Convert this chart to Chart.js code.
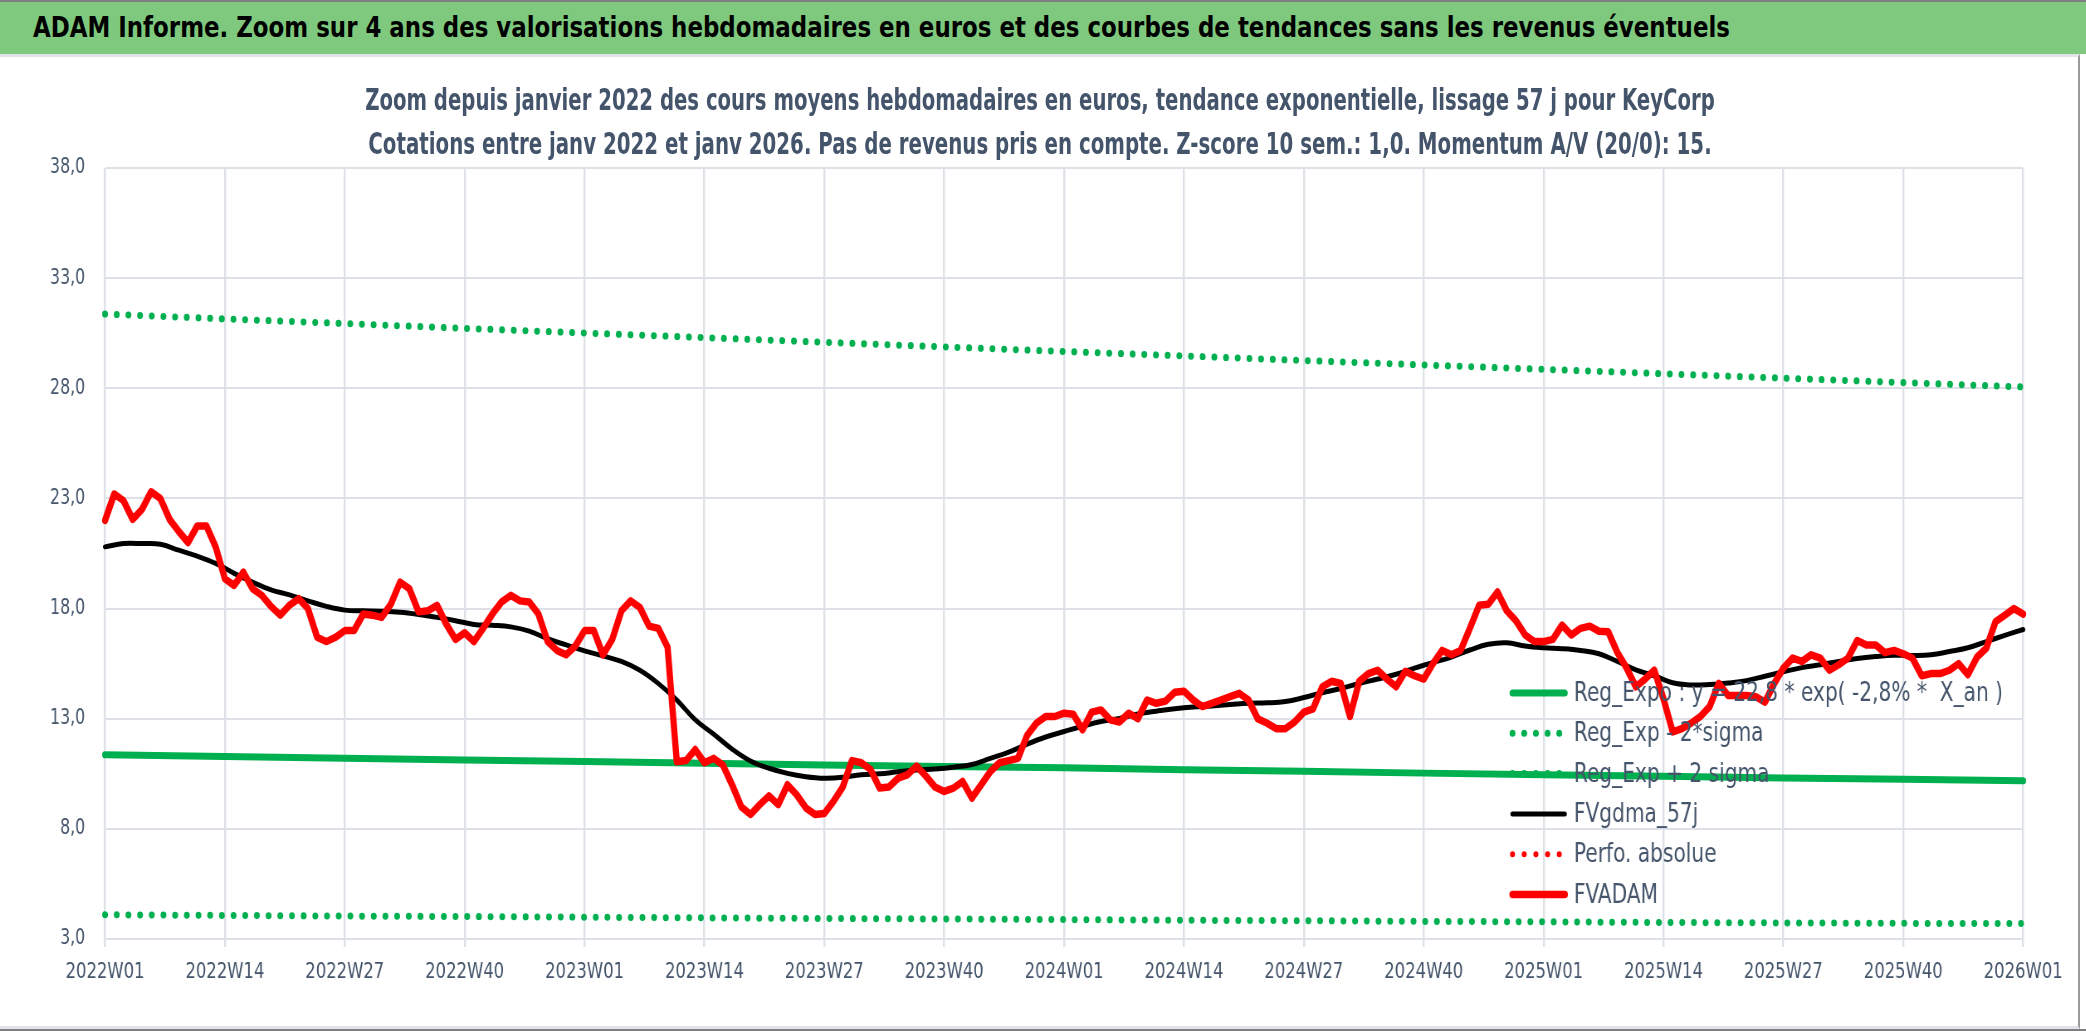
<!DOCTYPE html>
<html>
<head>
<meta charset="utf-8">
<script src="https://cdn.jsdelivr.net/npm/chart.js@4.4.1/dist/chart.umd.min.js"></script>
<style>
  html, body { margin: 0; padding: 0; background: #fff; }
  body { width: 2086px; height: 1031px; position: relative; overflow: hidden; }
  #banner {
    position: absolute; left: 0; top: 0; width: 2086px; height: 54px;
    background: #7ec97e; border-top: 2px solid #7f7f7f; box-sizing: border-box;
  }
  .fit { position: absolute; white-space: nowrap; font-family: "DejaVu Sans Condensed", sans-serif; font-weight: bold; }
  #bannerText { left: 33px; top: 0; line-height: 50px; font-size: 29px; color: #000; transform-origin: 0 50%; }
  .title { left: 1040px; font-size: 30px; line-height: 44px; color: #44546a; }
  #t1 { top: 78px; }
  #t2 { top: 122px; }
  #frame {
    position: absolute; left: 0; top: 54px; width: 2080px; height: 975px;
    box-sizing: border-box; border-top: 3px solid #e0e2e7; border-bottom: 3px solid #e0e2e7;
    border-right: 2px solid #9a9a9a;
  }
  #bottomline { position: absolute; left: 0; top: 1029px; width: 2086px; height: 2px; background: #7f7f7f; }
  #wrap { position: absolute; left: 0; top: 57px; transform-origin: 0 0; }
  #wrap canvas { display: block; }
</style>
</head>
<body>
<div id="banner"><div id="bannerText" class="fit" data-w="1697">ADAM Informe. Zoom sur 4 ans des valorisations hebdomadaires en euros et des courbes de tendances sans les revenus éventuels</div></div>
<div id="frame"></div>
<div id="bottomline"></div>
<div id="wrap"><canvas id="chart"></canvas></div>
<div id="t1" class="fit title" data-w="1350">Zoom depuis janvier 2022 des cours moyens hebdomadaires en euros, tendance exponentielle, lissage 57 j pour KeyCorp</div>
<div id="t2" class="fit title" data-w="1343">Cotations entre janv 2022 et janv 2026. Pas de revenus pris en compte. Z-score 10 sem.: 1,0. Momentum A/V (20/0): 15.</div>
<script>
// semaines ISO affichées sur l'axe
const years = [2022, 2023, 2024, 2025];
const weeksPerYear = 52;
const weeks = [];
years.forEach(y => {
  for (let w = 1; w <= weeksPerYear; w++) weeks.push(y + "W" + String(w).padStart(2, "0"));
});
weeks.push("2026W01");

const xTickLabels = [
  "2022W01", "2022W14", "2022W27", "2022W40",
  "2023W01", "2023W14", "2023W27", "2023W40",
  "2024W01", "2024W14", "2024W27", "2024W40",
  "2025W01", "2025W14", "2025W27", "2025W40",
  "2026W01"
];

// FVADAM : cours moyen hebdomadaire (euros), une valeur par semaine
const fvadam = [
  22.0, 23.2, 22.9, 22.05, 22.5, 23.3, 23.0, 22.05, 21.5, 21.0,
  21.75, 21.75, 20.8, 19.35, 19.05, 19.65, 18.9, 18.6, 18.1, 17.7,
  18.15, 18.45, 18.0, 16.7, 16.5, 16.7, 17.0, 17.0, 17.75, 17.7,
  17.6, 18.2, 19.2, 18.9, 17.85, 17.9, 18.15, 17.3, 16.6, 16.9,
  16.5, 17.1, 17.75, 18.3, 18.6, 18.35, 18.3, 17.75, 16.5, 16.1,
  15.9, 16.3, 17.0, 17.0, 15.9, 16.6, 17.9, 18.35, 18.05, 17.2,
  17.1, 16.25, 11.05, 11.1, 11.6, 11.0, 11.2, 10.9, 10.0, 9.0,
  8.65, 9.1, 9.5, 9.1, 10.0, 9.55, 8.95, 8.65, 8.7, 9.25,
  9.9, 11.1, 11.0, 10.7, 9.85, 9.9, 10.3, 10.45, 10.85, 10.4,
  9.9, 9.7, 9.85, 10.15, 9.4, 10.0, 10.6, 11.0, 11.1, 11.2,
  12.25, 12.8, 13.1, 13.1, 13.25, 13.2, 12.5, 13.3, 13.4, 12.95,
  12.85, 13.25, 13.0, 13.85, 13.7, 13.8, 14.2, 14.25, 13.85, 13.55,
  13.7, 13.85, 14.0, 14.15, 13.85, 13.0, 12.8, 12.55, 12.55, 12.85,
  13.3, 13.45, 14.45, 14.7, 14.6, 13.1, 14.7, 15.05, 15.2, 14.8,
  14.45, 15.15, 14.95, 14.8, 15.5, 16.1, 15.9, 16.1, 17.1, 18.15,
  18.2, 18.75, 17.9, 17.45, 16.8, 16.5, 16.5, 16.6, 17.25, 16.8,
  17.1, 17.2, 16.97, 16.95, 16.0, 15.3, 14.45, 14.8, 15.2, 13.9,
  12.4, 12.55, 12.8, 13.1, 13.55, 14.6, 14.05, 14.05, 14.05, 14.0,
  13.75, 14.6, 15.3, 15.75, 15.6, 15.9, 15.75, 15.2, 15.45, 15.75,
  16.55, 16.35, 16.35, 16.0, 16.1, 15.95, 15.75, 14.95, 15.05, 15.05,
  15.2, 15.5, 15.0, 15.8, 16.2, 17.4, 17.7, 18.0, 17.75
];

// FVgdma_57j : moyenne lissée, lue toutes les 2 semaines
const fvgdmaStep = 2;
const fvgdma = [
  20.8, 20.95, 20.95, 20.92, 20.65, 20.38, 20.05, 19.6, 19.2, 18.85,
  18.62, 18.35, 18.1, 17.93, 17.9, 17.88, 17.83, 17.73, 17.6, 17.45,
  17.28, 17.24, 17.17, 16.98, 16.63, 16.35, 16.08, 15.85, 15.6, 15.2,
  14.6, 13.85, 12.95, 12.3, 11.62, 11.08, 10.75, 10.52, 10.37, 10.3,
  10.34, 10.46, 10.5, 10.59, 10.67, 10.72, 10.8, 10.92, 11.2, 11.48,
  11.85, 12.17, 12.42, 12.66, 12.87, 13.01, 13.22, 13.34, 13.45, 13.53,
  13.58, 13.64, 13.7, 13.72, 13.78, 13.96, 14.18, 14.37, 14.6, 14.8,
  15.02, 15.3, 15.55, 15.8, 16.12, 16.38, 16.45, 16.3, 16.22, 16.18,
  16.1, 15.95, 15.6, 15.22, 14.95, 14.63, 14.53, 14.55, 14.62, 14.73,
  14.93, 15.13, 15.32, 15.45, 15.6, 15.73, 15.82, 15.88, 15.87, 15.9,
  16.05, 16.22, 16.5, 16.78, 17.05
];

// droites de régression, lues à chaque étiquette (13 semaines)
const trendStep = 13;
const regExpo = [11.36, 11.28, 11.21, 11.13, 11.06, 10.98, 10.9, 10.83, 10.77, 10.68, 10.61, 10.53, 10.46, 10.39, 10.31, 10.25, 10.18];
const regMinus2 = [4.1, 4.07, 4.04, 4.02, 3.99, 3.96, 3.93, 3.91, 3.88, 3.85, 3.83, 3.8, 3.78, 3.75, 3.73, 3.71, 3.7];
const regPlus2 = [31.37, 31.15, 30.94, 30.72, 30.51, 30.3, 30.09, 29.88, 29.67, 29.47, 29.26, 29.06, 28.86, 28.66, 28.46, 28.26, 28.06];
const perfoAbsolue = [];

const yMin = 3, yMax = 38, yStep = 5;

// le rendu d'origine a un texte étroit : on compresse le canevas horizontalement
const SX = 0.83;
const W = 2079, H = 967;
const FONT = '"DejaVu Sans Condensed", sans-serif';
const TEXT = "#44546a";
const GRID = "#dde1e7";
const GREEN = "#00b050";

// ajuste la largeur des titres HTML
document.querySelectorAll(".fit").forEach(el => {
  const k = Number(el.dataset.w) / el.offsetWidth;
  el.style.transform = el.classList.contains("title")
    ? "translateX(-50%) scaleX(" + k + ")"
    : "scaleX(" + k + ")";
});

const canvas = document.getElementById("chart");
canvas.width = Math.round(W / SX);
canvas.height = H;
canvas.style.width = canvas.width + "px";
canvas.style.height = H + "px";
document.getElementById("wrap").style.transform = "scaleX(" + SX + ")";

function sparse(values, step) {
  return values.map((v, i) => ({ x: weeks[i * step], y: v }));
}

const dotted = [0.1, 11.6 / SX];

const inlineLegend = {
  id: "inlineLegend",
  afterDatasetsDraw(chart) {
    const { ctx, chartArea } = chart;
    const x0 = chartArea.right - 514 / SX;
    const y0 = chartArea.top + 525;
    const gap = 40.3;
    chart.data.datasets.forEach((ds, i) => {
      const y = y0 + i * gap;
      ctx.save();
      ctx.strokeStyle = ds.borderColor;
      ctx.lineWidth = ds.borderWidth;
      ctx.lineCap = "round";
      ctx.setLineDash(ds.borderDash || []);
      ctx.beginPath();
      ctx.moveTo(x0 + 4, y);
      ctx.lineTo(x0 + 67, y);
      ctx.stroke();
      ctx.setLineDash([]);
      ctx.fillStyle = TEXT;
      ctx.font = "27px " + FONT;
      ctx.textBaseline = "middle";
      ctx.fillText(ds.label, x0 + 78, y + 1);
      ctx.restore();
    });
  }
};

new Chart(canvas, {
  type: "line",
  data: {
    labels: weeks,
    datasets: [
      { label: "Reg_Expo : y = 22,8 * exp( -2,8% *  X_an )", data: sparse(regExpo, trendStep),
        borderColor: GREEN, borderWidth: 7, order: 2 },
      { label: "Reg_Exp - 2*sigma", data: sparse(regMinus2, trendStep),
        borderColor: GREEN, borderWidth: 7, borderDash: dotted, order: 2 },
      { label: "Reg_Exp + 2 sigma", data: sparse(regPlus2, trendStep),
        borderColor: GREEN, borderWidth: 7, borderDash: dotted, order: 2 },
      { label: "FVgdma_57j", data: sparse(fvgdma, fvgdmaStep),
        borderColor: "#000000", borderWidth: 5, tension: 0.4, order: 1 },
      { label: "Perfo. absolue", data: perfoAbsolue,
        borderColor: "#ff0000", borderWidth: 6, borderDash: dotted, order: 1 },
      { label: "FVADAM", data: fvadam,
        borderColor: "#ff0000", borderWidth: 7.5, order: 0 }
    ]
  },
  options: {
    responsive: false,
    animation: false,
    devicePixelRatio: 1,
    elements: {
      point: { radius: 0 },
      line: { borderCapStyle: "round", borderJoinStyle: "round", fill: false }
    },
    layout: { padding: { left: 0, right: 56 / SX, top: 111, bottom: 0 } },
    plugins: {
      legend: { display: false },
      tooltip: { enabled: false },
      title: { display: false }
    },
    scales: {
      x: {
        type: "category",
        afterFit: (s) => { s.height = 85; },
        border: { display: false },
        grid: {
          color: (c) => xTickLabels.includes(weeks[c.index]) ? GRID : "rgba(0,0,0,0)",
          lineWidth: 2 / SX,
          tickLength: 8,
          drawTicks: true
        },
        ticks: {
          autoSkip: false,
          maxRotation: 0,
          minRotation: 0,
          padding: 12,
          color: TEXT,
          font: { family: FONT, size: 22 },
          callback: function (value) {
            const l = this.getLabelForValue(value);
            return xTickLabels.includes(l) ? l : "";
          }
        }
      },
      y: {
        min: yMin,
        max: yMax,
        afterFit: (s) => { s.width = 105 / SX; },
        border: { display: false },
        grid: { color: GRID, lineWidth: 2, drawTicks: false },
        ticks: {
          stepSize: yStep,
          padding: 20 / SX,
          color: TEXT,
          font: { family: FONT, size: 21 },
          callback: (v) => v.toFixed(1).replace(".", ",")
        }
      }
    }
  },
  plugins: [inlineLegend]
});
</script>
</body>
</html>
